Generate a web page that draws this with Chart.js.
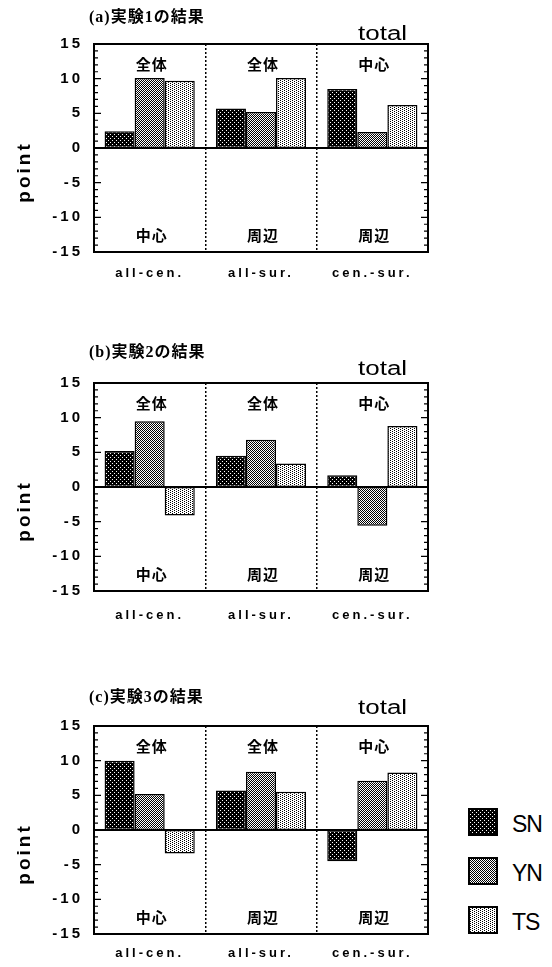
<!DOCTYPE html>
<html lang="ja">
<head>
<meta charset="utf-8">
<script src="https://cdn.jsdelivr.net/npm/chart.js@4.4.0/dist/chart.umd.min.js"></script>
<style>
  html, body { margin: 0; padding: 0; background: #fff; width: 552px; height: 967px; overflow: hidden; }
  .panel { position: absolute; left: 0; width: 450px; height: 292px; }
  .ttl { position: absolute; left: 89px; font: bold 16px "Liberation Serif", "Noto Sans CJK JP", serif; letter-spacing: 1px; line-height: 18px; white-space: nowrap; }
  .total { position: absolute; left: 358px; font: 20px "Liberation Sans", Arial, sans-serif; line-height: 20px; transform: scaleX(1.3); transform-origin: left top; }
  .sw { position: absolute; left: 468px; }
  .lgtxt { position: absolute; left: 512px; font: 23px "Liberation Sans", Arial, sans-serif; line-height: 27px; letter-spacing: -1px; }
</style>
</head>
<body>
<div id="root"></div>
<script>
const categories = ['all-cen.', 'all-sur.', 'cen.-sur.'];
const topLabels = ['全体', '全体', '中心'];
const bottomLabels = ['中心', '周辺', '周辺'];
const seriesNames = ['SN', 'YN', 'TS'];
const yTicks = [-15, -10, -5, 0, 5, 10, 15];
const titles = ['(a)実験1の結果', '(b)実験2の結果', '(c)実験3の結果'];

// (a) 実験1
const snA = [2.4, 5.7, 8.5];
const ynA = [10.1, 5.2, 2.3];
const tsA = [9.7, 10.1, 6.2];
// (b) 実験2
const snB = [5.2, 4.5, 1.7];
const ynB = [9.5, 6.8, -5.6];
const tsB = [-4.1, 3.4, 8.8];
// (c) 実験3
const snC = [10.0, 5.7, -4.5];
const ynC = [5.2, 8.4, 7.1];
const tsC = [-3.4, 5.5, 8.3];

// trama de puntos como en la figura impresa
function makePattern(size, dark, cells) {
    const c = document.createElement('canvas');
    c.width = size; c.height = size;
    const g = c.getContext('2d');
    g.fillStyle = dark ? '#000' : '#fff';
    g.fillRect(0, 0, size, size);
    g.fillStyle = dark ? '#fff' : '#000';
    cells.forEach(([x, y]) => g.fillRect(x, y, 1, 1));
    return g.createPattern(c, 'repeat');
}

const patterns = [
    makePattern(4, true, [[0, 0], [2, 2]]),
    makePattern(2, true, [[0, 0], [1, 1]]),
    makePattern(4, false, [[0, 0], [2, 1], [0, 2], [2, 3]])
];

const framePlugin = {
    id: 'frame',
    beforeDraw(chart) { chart.ctx.letterSpacing = '3px'; },
    beforeDatasetsDraw(chart) { chart.ctx.letterSpacing = '0px'; },
    afterDatasetsDraw(chart) {
        const { ctx, chartArea: a, scales: { x, y } } = chart;
        ctx.save();
        ctx.strokeStyle = '#000';
        const y0 = y.getPixelForValue(0);
        ctx.lineWidth = 2;
        ctx.beginPath(); ctx.moveTo(a.left, y0); ctx.lineTo(a.right, y0); ctx.stroke();

        ctx.lineWidth = 1.2;
        for (let v = y.min; v <= y.max; v++) {
            const py = y.getPixelForValue(v);
            const len = v % 5 === 0 ? 7 : 4;
            ctx.beginPath();
            ctx.moveTo(a.left, py); ctx.lineTo(a.left + len, py);
            ctx.moveTo(a.right, py); ctx.lineTo(a.right - len, py);
            ctx.stroke();
        }
        ctx.lineWidth = 2;
        ctx.strokeRect(a.left, a.top, a.right - a.left, a.bottom - a.top);

        ctx.fillStyle = '#000';
        ctx.textAlign = 'center';
        ctx.textBaseline = 'middle';
        ctx.letterSpacing = '1px';
        ctx.font = 'bold 15px "Noto Sans CJK JP", sans-serif';
        topLabels.forEach((t, i) => ctx.fillText(t, x.getPixelForValue(i) + 2, a.top + 20));
        bottomLabels.forEach((t, i) => ctx.fillText(t, x.getPixelForValue(i) + 2, a.bottom - 17));

        ctx.letterSpacing = '3px';
        ctx.font = 'bold 19px "Liberation Sans", Arial, sans-serif';
        ctx.translate(25, y0 + 24);
        ctx.rotate(-Math.PI / 2);
        ctx.fillText('point', 0, 0);
        ctx.restore();
    }
};

const panelTops = [0, 339, 682];
const labelPads = [14, 17, 12];
const titleTops = [8, 343, 688];
const totalTops = [23, 358, 697];
const panelData = [[snA, ynA, tsA], [snB, ynB, tsB], [snC, ynC, tsC]];

const root = document.getElementById('root');

panelData.forEach((series, p) => {
    const canvas = document.createElement('canvas');
    canvas.className = 'panel';
    canvas.width = 450; canvas.height = 292;
    canvas.style.top = panelTops[p] + 'px';
    root.appendChild(canvas);

    const ttl = document.createElement('div');
    ttl.className = 'ttl';
    ttl.style.top = titleTops[p] + 'px';
    ttl.textContent = titles[p];
    root.appendChild(ttl);

    const tot = document.createElement('div');
    tot.className = 'total';
    tot.style.top = totalTops[p] + 'px';
    tot.textContent = 'total';
    root.appendChild(tot);

    new Chart(canvas.getContext('2d'), {
        type: 'bar',
        data: {
            labels: categories,
            datasets: series.map((d, i) => ({
                label: seriesNames[i],
                data: d,
                backgroundColor: patterns[i],
                borderColor: '#000',
                borderWidth: 1.5,
                borderSkipped: false,
                categoryPercentage: 0.81,
                barPercentage: 1
            }))
        },
        options: {
            responsive: false,
            animation: false,
            events: [],
            layout: { padding: { top: 44, right: 22, left: 0, bottom: 0 } },
            plugins: { legend: { display: false }, tooltip: { enabled: false } },
            scales: {
                x: {
                    afterFit: s => { s.height = 40; },
                    grid: { color: '#000', lineWidth: 1.5, drawTicks: false, offset: true },
                    border: { display: false, dash: [2, 2] },
                    ticks: {
                        color: '#000', padding: labelPads[p], maxRotation: 0, autoSkip: false,
                        font: { family: '"Liberation Sans", Arial, sans-serif', size: 13, weight: 'bold' }
                    }
                },
                y: {
                    min: -15, max: 15,
                    afterBuildTicks: s => { s.ticks = yTicks.map(v => ({ value: v })); },
                    afterFit: s => { s.width = 94; },
                    grid: { display: false, drawTicks: false },
                    border: { display: false },
                    ticks: {
                        color: '#000', padding: 11,
                        font: { family: '"Liberation Sans", Arial, sans-serif', size: 15, weight: 'bold' }
                    }
                }
            }
        },
        plugins: [framePlugin]
    });
});

// leyenda
const swTops = [808, 857, 906];
seriesNames.forEach((name, i) => {
    const c = document.createElement('canvas');
    c.className = 'sw';
    c.width = 30; c.height = 28;
    c.style.top = swTops[i] + 'px';
    const g = c.getContext('2d');
    g.fillStyle = patterns[i];
    g.fillRect(0, 0, 30, 28);
    g.strokeStyle = '#000';
    g.lineWidth = 2;
    g.strokeRect(1, 1, 28, 26);
    root.appendChild(c);

    const t = document.createElement('div');
    t.className = 'lgtxt';
    t.style.top = (swTops[i] + 3) + 'px';
    t.textContent = name;
    root.appendChild(t);
});
</script>
</body>
</html>
